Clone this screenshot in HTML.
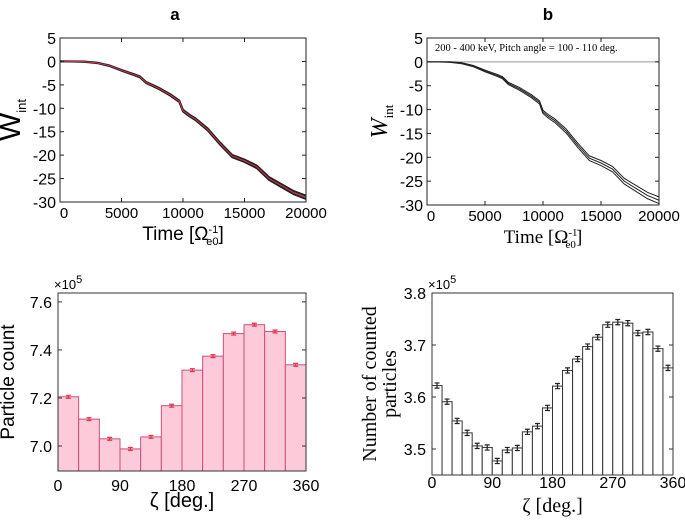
<!DOCTYPE html>
<html><head><meta charset="utf-8"><style>
html,body{margin:0;padding:0;background:#fff;}
svg{display:block;}
text{font-family:"Liberation Sans",sans-serif;}
</style></head><body>
<svg id="fig" width="685" height="522" viewBox="0 0 685 522" xmlns="http://www.w3.org/2000/svg">
<text x="175" y="20" font-size="17" font-weight="bold" text-anchor="middle">a</text>
<text x="548" y="20" font-size="17" font-weight="bold" text-anchor="middle">b</text>
<g id="pa"></g>
<g id="pb"></g>
<g id="pc"></g>
<g id="pd"></g>
</svg>
<script>
const NS="http://www.w3.org/2000/svg";
const timeVals=[0,1000,2000,3000,4000,5000,6000,6500,7000,8000,9000,9700,10000,10500,11000,12000,13000,14000,15000,16000,17000,18000,19000,20000];
const wintVals=[0,0,-0.05,-0.3,-0.9,-1.9,-2.8,-3.3,-4.5,-5.7,-7.2,-8.5,-10.5,-11.5,-12.3,-14.5,-17.5,-20.2,-21.2,-22.5,-25,-26.5,-28,-29];
const wTicks=[5,0,-5,-10,-15,-20,-25,-30];
const tTicks=[0,5000,10000,15000,20000];
const zetaTicks=[0,90,180,270,360];
const countA=[7.205,7.112,7.03,6.988,7.038,7.168,7.316,7.374,7.468,7.505,7.477,7.338];
const errA=[0.006,0.006,0.006,0.006,0.006,0.006,0.006,0.006,0.006,0.006,0.006,0.006];
const ticksA=[7.0,7.2,7.4,7.6];
const countB=[3.622,3.591,3.554,3.531,3.506,3.503,3.477,3.498,3.502,3.533,3.544,3.579,3.621,3.651,3.673,3.697,3.715,3.739,3.744,3.742,3.723,3.725,3.693,3.656];
const errB=[0.005,0.005,0.005,0.005,0.005,0.005,0.005,0.005,0.005,0.005,0.005,0.005,0.005,0.005,0.005,0.005,0.005,0.005,0.005,0.005,0.005,0.005,0.005,0.005];
const ticksB=[3.5,3.6,3.7,3.8];

function el(p,tag,attrs,txt){const e=document.createElementNS(NS,tag);for(const k in attrs)e.setAttribute(k,attrs[k]);if(txt!==undefined)e.textContent=txt;p.appendChild(e);return e;}
function lin(d0,d1,r0,r1){return v=>r0+(v-d0)/(d1-d0)*(r1-r0);}

function linePanel(g,L,R,T,B,serif,mode){
  const x=lin(0,20000,L,R), y=lin(5,-30,T,B);
  const ff=serif?'font-family:"Liberation Serif",serif':'';
  if(mode==='b'){const z=el(g,'line',{x1:L,x2:R,y1:y(0),y2:y(0),stroke:'#999','stroke-width':1});
    }
  const offs=mode==='a'?[-0.35,0.35]:[-0.7,0,0.7];
  offs.forEach(o=>{
    const pts=timeVals.map((t,i)=>x(t)+','+y(wintVals[i]+o*(t/20000))).join(' ');
    const pl=el(g,'polyline',{points:pts,fill:'none',stroke:'#222','stroke-width':mode==='a'?2:1});
    
  });
  if(mode==='a'){const pts=timeVals.map((t,i)=>x(t)+','+y(wintVals[i])).join(' ');
    const pl=el(g,'polyline',{points:pts,fill:'none',stroke:'#d0304a','stroke-width':1});
    }
  const box=el(g,'rect',{x:L,y:T,width:R-L,height:B-T,fill:'none',stroke:'#222','stroke-width':1});
  
  wTicks.forEach(v=>{el(g,'line',{x1:L,x2:L+4,y1:y(v),y2:y(v),stroke:'#222'});el(g,'line',{x1:R,x2:R-4,y1:y(v),y2:y(v),stroke:'#222'});
    const t=el(g,'text',{x:L-4,y:y(v)+6,'font-size':16,'text-anchor':'end'},String(v));
    });
  tTicks.forEach(v=>{el(g,'line',{x1:x(v),x2:x(v),y1:B,y2:B-4,stroke:'#222'});el(g,'line',{x1:x(v),x2:x(v),y1:T,y2:T+4,stroke:'#222'});
    const t=el(g,'text',{x:x(v)+(v===0?4:0),y:B+16,'font-size':15,'text-anchor':'middle'},String(v));
    });
  const xt=el(g,'text',{x:(L+R)/2,y:B+38,'font-size':19,'text-anchor':'middle',style:ff},'Time [Ω');
  el(xt,'tspan',{'font-size':11,dy:-7},'-1');el(xt,'tspan',{'font-size':11,dy:12,dx:-12},'e0');el(xt,'tspan',{dy:-5},']');
  
  const yt=el(g,'text',{transform:`translate(${L-40},${(T+B)/2}) rotate(-90)`,'font-size':serif?24:30,'text-anchor':'middle',style:serif?ff+';font-style:italic':''},'W');
  el(yt,'tspan',{'font-size':13,dy:6,style:'font-style:normal'},'int');
  
  if(mode==='b'){const ann=el(g,'text',{x:L+8,y:T+13,'font-size':10.5,style:ff},'200 - 400 keV,   Pitch angle = 100 - 110 deg.');
    }
}
linePanel(document.getElementById('pa'),60,306,38,202,false,'a');
linePanel(document.getElementById('pb'),427,659,38,205,true,'b');

function histPanel(g,L,R,T,B,vals,errs,ticks,ymin,ymax,fill,stroke,errc,serif,ylab,tickDy,titleDy){
  const x=lin(0,360,L,R), y=lin(ymin,ymax,B,T), w=360/vals.length;
  const ff=serif?'font-family:"Liberation Serif",serif':'';
  vals.forEach((v,i)=>{
    const r=el(g,'rect',{x:x(i*w),y:y(v),width:x(w)-x(0),height:B-y(v),fill:fill,stroke:stroke,'stroke-width':1});
    
    const cx=x(i*w+w/2), e=errs[i];
    const eb=el(g,'path',{d:`M${cx},${y(v+e)}V${y(v-e)}M${cx-2.5},${y(v+e)}H${cx+2.5}M${cx-2.5},${y(v-e)}H${cx+2.5}`,stroke:errc,'stroke-width':1.2,fill:'none'});
    
  });
  const box=el(g,'rect',{x:L,y:T,width:R-L,height:B-T,fill:'none',stroke:'#333','stroke-width':1});
  
  ticks.forEach(v=>{el(g,'line',{x1:L,x2:L+4,y1:y(v),y2:y(v),stroke:'#333'});el(g,'line',{x1:R,x2:R-4,y1:y(v),y2:y(v),stroke:'#333'});
    const t=el(g,'text',{x:L-6,y:y(v)+6,'font-size':16,'text-anchor':'end'},v.toFixed(1));
    });
  zetaTicks.forEach(v=>{const t=el(g,'text',{x:x(v),y:B+tickDy,'font-size':16,'text-anchor':'middle'},String(v));
    });
  const sc=el(g,'text',{x:L-4,y:T-4,'font-size':13},'×10');el(sc,'tspan',{'font-size':11,dy:-6},'5');
  
  const xt=el(g,'text',{x:(L+R)/2,y:B+titleDy,'font-size':20,'text-anchor':'middle',style:ff},serif?'ζ [deg.]':'ζ  [deg.]');
  
  ylab.forEach((s,i)=>{const yt=el(g,'text',{transform:`translate(${L-(ylab.length>1?56-i*20:44)},${(T+B)/2}) rotate(-90)`,'font-size':ylab.length>1?20:19,'text-anchor':'middle',style:ff},s);
    });
}
histPanel(document.getElementById('pc'),58,306,293,471,countA,errA,ticksA,6.896,7.637,'#fdcad9','#c8507a','#e8304a',false,['Particle count'],20,36);
histPanel(document.getElementById('pd'),432,673,293,475,countB,errB,ticksB,3.45,3.8,'#fff','#333','#222',true,['Number of counted','particles'],13,37);
</script>
</body></html>
